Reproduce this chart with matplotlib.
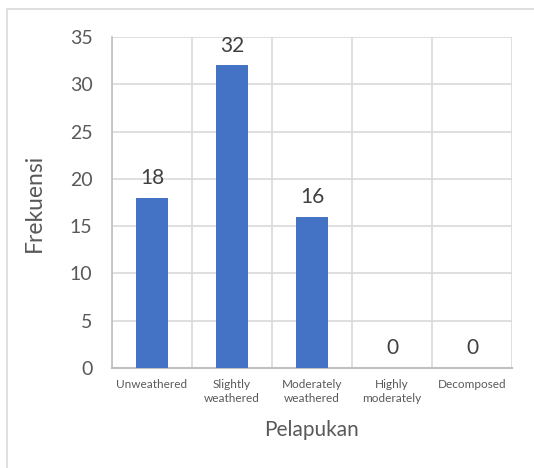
import numpy as np
import matplotlib.pyplot as plt
from matplotlib.patches import Rectangle

kategori = ["Unweathered", "Slightly\nweathered", "Moderately\nweathered",
            "Highly\nmoderately", "Decomposed"]
frekuensi = [18, 32, 16, 0, 0]
yticks = [0, 5, 10, 15, 20, 25, 30, 35]

plt.rcParams['font.family'] = ['Lato', 'DejaVu Sans']

fig = plt.figure(figsize=(5.34, 4.68), dpi=100)
ax = fig.add_axes([0.2097, 0.2137, 0.749, 0.707])

x = np.arange(len(kategori))
bars = ax.bar(x, frekuensi, width=0.4, color='#4472C4', zorder=3)

for xi, v in zip(x, frekuensi):
    ax.annotate(str(v), (xi, v), xytext=(0, 7), textcoords='offset points',
                ha='center', va='bottom', fontsize=15, color='#404040')

ax.set_xlim(-0.5, len(kategori) - 0.5)
ax.set_ylim(0, 35)
ax.set_yticks(yticks)
ax.set_xticks(x)
ax.set_xticklabels(kategori, fontsize=8.5, color='#595959', linespacing=1.3)
ax.set_xticks(np.arange(-0.5, len(kategori)), minor=True)
ax.tick_params(axis='both', which='both', length=0)
ax.tick_params(axis='y', labelsize=14, labelcolor='#595959', pad=14)
ax.tick_params(axis='x', pad=8)

ax.grid(axis='y', which='major', color='#d9d9d9', linewidth=1.2, zorder=0)
ax.grid(axis='x', which='minor', color='#d9d9d9', linewidth=1.2, zorder=0)

for s in ['top', 'right']:
    ax.spines[s].set_visible(False)
ax.spines['left'].set_color('#bfbfbf')
ax.spines['left'].set_linewidth(1.2)
ax.spines['bottom'].set_color('#bfbfbf')
ax.spines['bottom'].set_linewidth(1.5)

ax.set_xlabel("Pelapukan", fontsize=15, color='#595959', labelpad=12)
ax.set_ylabel("Frekuensi", fontsize=16.5, color='#595959', labelpad=18)

# chart frame
fig.patches.append(Rectangle((7 / 534, -0.1), 1.2, 1 - 9 / 468 + 0.1,
                             transform=fig.transFigure, fill=False,
                             edgecolor='#d9d9d9', linewidth=1.2))

fig.savefig("out.png", dpi=100)
